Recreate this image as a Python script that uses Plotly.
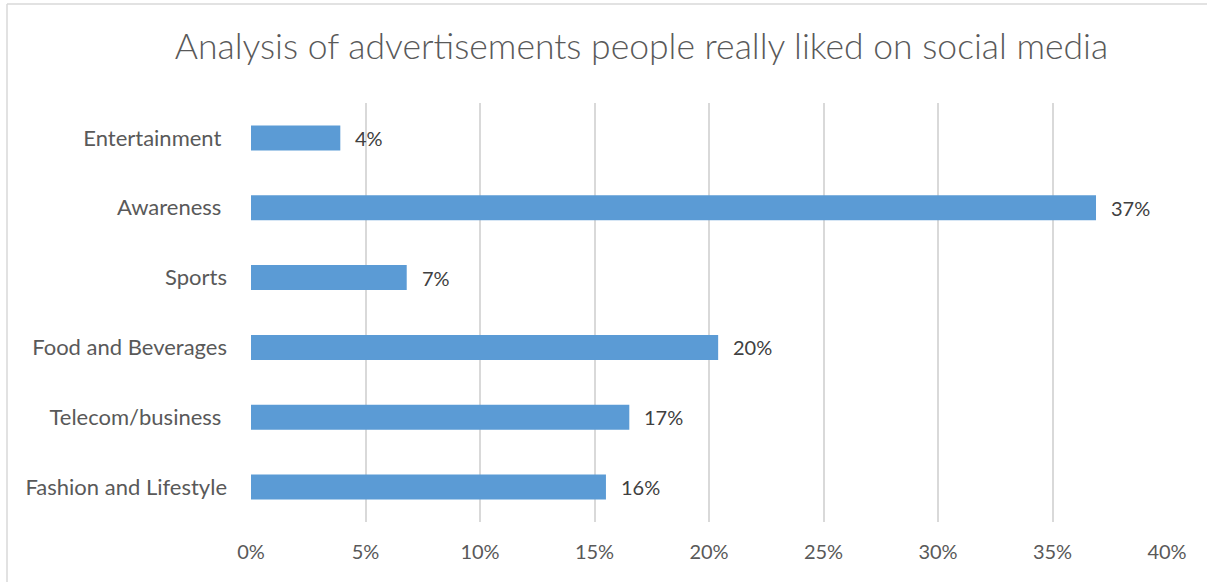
import plotly.graph_objects as go

categories = ["Fashion and Lifestyle", "Telecom/business", "Food and Beverages",
              "Sports", "Awareness", "Entertainment"]
category_labels = ["Fashion and Lifestyle", "Telecom/business\u00a0", "Food and Beverages",
                   "Sports", "Awareness\u00a0", "Entertainment\u00a0"]
shares = [0.155, 0.1652, 0.204, 0.068, 0.369, 0.039]
x_ticks = [0, 0.05, 0.10, 0.15, 0.20, 0.25, 0.30, 0.35, 0.40]
title_text = "Analysis of advertisements people really liked on social media"

W, H = 1207, 582
L, R, T, B = 251, 40, 103, 60
pw, ph = W - L - R, H - T - B


def px_x(p):
    return (p - L) / pw


def px_y(p):
    return (H - B - p) / ph


fig = go.Figure(go.Bar(
    y=categories,
    x=shares,
    orientation="h",
    marker=dict(color="#5B9BD5", line=dict(width=0)),
    width=0.357,
    hoverinfo="skip",
))

annotations = [
    dict(x=v, y=c, xref="x", yref="y", text=f"{v:.0%}", showarrow=False,
         xanchor="left", yanchor="middle", xshift=13,
         font=dict(family="Lato", size=20, color="#404040"))
    for c, v in zip(categories, shares)
]

fig.update_layout(
    width=W, height=H,
    margin=dict(l=L, r=R, t=T, b=B),
    paper_bgcolor="white",
    plot_bgcolor="white",
    showlegend=False,
    title=dict(text=title_text, x=px_x(641.5), xref="paper", xanchor="center",
               y=1 - 47 / H, yanchor="middle",
               font=dict(family="Lato", size=35.5, color="#595959", weight=300)),
    xaxis=dict(range=[0, 0.40], tickvals=x_ticks, tickformat=".0%",
               showgrid=True, gridcolor="#D9D9D9", gridwidth=2,
               zeroline=False, showline=False, ticks="",
               ticklabelstandoff=16,
               tickfont=dict(family="Lato", size=20, color="#595959")),
    yaxis=dict(categoryorder="array", categoryarray=categories,
               tickvals=categories, ticktext=category_labels,
               range=[-0.5, 5.5], showgrid=False, zeroline=False,
               showline=False, ticks="", ticklabelstandoff=23,
               tickfont=dict(family="Lato", size=22, color="#595959")),
    annotations=annotations,
    shapes=[
        dict(type="line", xref="paper", yref="paper",
             x0=px_x(7), x1=px_x(1210), y0=px_y(4), y1=px_y(4),
             line=dict(color="#D9D9D9", width=1.5)),
        dict(type="line", xref="paper", yref="paper",
             x0=px_x(7), x1=px_x(7), y0=px_y(4), y1=px_y(590),
             line=dict(color="#D9D9D9", width=1.5)),
    ],
)

fig.write_html("out.html")
